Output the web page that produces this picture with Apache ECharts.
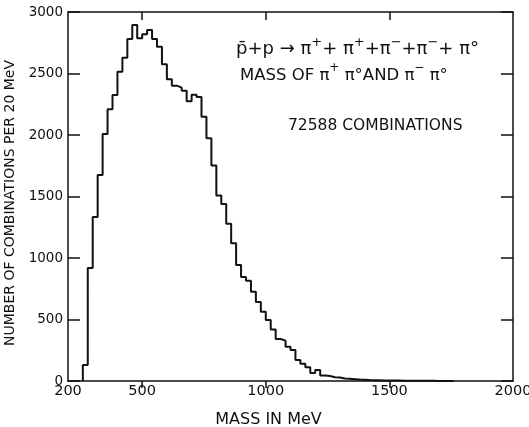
<!DOCTYPE html>
<html><head><meta charset="utf-8">
<script src="https://cdn.jsdelivr.net/npm/echarts@6/dist/echarts.min.js"></script>
<style>html,body{margin:0;padding:0;background:#fff}#c{width:529px;height:427px}</style>
</head><body><div id="c"></div>
<script>
// Histogram: 20 MeV bins starting at 260 MeV
const binStart = 260;
const binWidth = 20;
const counts = [130, 918, 1333, 1675, 2008, 2209, 2325, 2515, 2629, 2780,
  2894, 2786, 2819, 2854, 2780, 2718, 2575, 2453, 2401, 2385,
  2360, 2275, 2328, 2309, 2149, 1973, 1752, 1508, 1440, 1278,
  1119, 943, 845, 815, 726, 642, 563, 496, 419, 341,
  328, 279, 252, 171, 140, 112, 65, 89, 45, 40,
  30, 28, 20, 18, 15, 12, 10, 8, 7, 6,
  5, 5, 4, 4, 3, 3, 3, 2, 2, 2,
  2, 1, 1, 1, 1];
const xLabelValues = [200, 500, 1000, 1500, 2000];
const xTickValues = [500, 1000, 1500];
const yTickInterval = 500;
const xTitle = 'MASS IN MeV';
const yTitle = 'NUMBER OF COMBINATIONS PER 20 MeV';
// rich-text notes: {b|...} normal, {s|...} superscript
const noteLine1 = '{b|p\u0304+p \u2192 \u03c0}{s|+}{b|+ \u03c0}{s|+}{b|+\u03c0}{s|\u2212}{b|+\u03c0}{s|\u2212}{b|+ \u03c0\u00b0}';
const noteLine2 = '{b|MASS OF \u03c0}{s|+}{b| \u03c0\u00b0AND \u03c0}{s|\u2212}{b| \u03c0\u00b0}';
const noteLine3 = '72588 COMBINATIONS';

const data = [[binStart, 0]];
counts.forEach((c, i) => data.push([binStart + i * binWidth, c]));
data.push([binStart + counts.length * binWidth, 0]);

const FONT = 'DejaVu Sans';
const INK = '#111';
const lineS = {color: INK, width: 1.5};
const plain = v => String(v);
const richStyles = (base, sup) => ({
  b: {fontSize: base, fontFamily: FONT, fill: INK, lineHeight: 22, verticalAlign: 'bottom'},
  s: {fontSize: sup, fontFamily: FONT, fill: INK, lineHeight: 22, verticalAlign: 'top'}
});
const chart = echarts.init(document.getElementById('c'), null, {renderer: 'canvas'});
chart.setOption({
  backgroundColor: '#fff',
  animation: false,
  grid: {left: 68, right: 16, top: 12, bottom: 46, containLabel: false, outerBoundsMode: 'none'},
  xAxis: [{
    type: 'value', min: 200, max: 2000, position: 'bottom',
    axisLine: {show: true, onZero: false, lineStyle: lineS},
    axisTick: {show: true, customValues: xTickValues, inside: false, length: 7, lineStyle: lineS},
    axisLabel: {customValues: xLabelValues, formatter: plain, color: INK, fontSize: 14.5, fontFamily: FONT, margin: 3},
    splitLine: {show: false},
    name: xTitle, nameLocation: 'middle', nameGap: 31,
    nameTextStyle: {color: INK, fontSize: 16, fontFamily: FONT, padding: [0, 44, 0, 0]}
  }, {
    type: 'value', min: 200, max: 2000, position: 'top',
    axisLine: {show: true, onZero: false, lineStyle: lineS},
    axisTick: {show: true, customValues: xTickValues, inside: true, length: 8, lineStyle: lineS},
    axisLabel: {show: false}, splitLine: {show: false}
  }],
  yAxis: [{
    type: 'value', min: 0, max: 3000, interval: yTickInterval, position: 'left',
    axisLine: {show: true, onZero: false, lineStyle: lineS},
    axisTick: {show: true, inside: true, length: 12, lineStyle: lineS},
    axisLabel: {formatter: plain, color: INK, fontSize: 13.5, fontFamily: FONT, margin: 5},
    splitLine: {show: false},
    name: yTitle, nameLocation: 'middle', nameGap: 42,
    nameTextStyle: {color: INK, fontSize: 14, fontFamily: FONT, padding: [0, 13, 0, 0]}
  }, {
    type: 'value', min: 0, max: 3000, interval: yTickInterval, position: 'right',
    axisLine: {show: true, onZero: false, lineStyle: lineS},
    axisTick: {show: true, inside: true, length: 12, lineStyle: lineS},
    axisLabel: {show: false}, splitLine: {show: false}
  }],
  series: [{
    type: 'line', step: 'end', data: data, xAxisIndex: 0, yAxisIndex: 0,
    symbol: 'none', showSymbol: false,
    lineStyle: {color: INK, width: 2}
  }],
  graphic: [
    {type: 'text', left: 236, top: 36, style: {text: noteLine1, rich: richStyles(18, 13)}},
    {type: 'text', left: 240, top: 62, style: {text: noteLine2, rich: richStyles(16.5, 12)}},
    {type: 'text', left: 288, top: 118, style: {text: noteLine3, fill: INK, font: '15.5px "DejaVu Sans"'}}
  ]
});
</script></body></html>
